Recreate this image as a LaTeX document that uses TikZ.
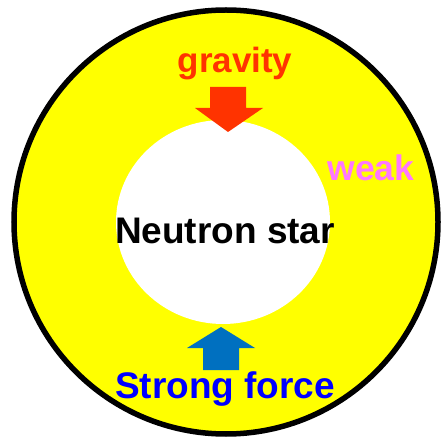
\documentclass[tikz,border=0pt]{standalone}
\usepackage{fontspec}
\setmainfont{Liberation Sans}
\usetikzlibrary{shapes.geometric}
\definecolor{ringyellow}{HTML}{FFFF00}
\definecolor{gravred}{HTML}{FF3300}
\definecolor{strongblue}{HTML}{0070C0}
\definecolor{textblue}{HTML}{0000FF}
\definecolor{weakpink}{HTML}{FF77FF}
\begin{document}
\begin{tikzpicture}[x=1pt,y=-1pt,
  lbl/.style={inner sep=0pt,font=\fontsize{37}{40}\selectfont\bfseries},
  bigarrow/.style={draw=none}]
\useasboundingbox (0,0) rectangle (444,438);
% outer ring
\node[circle,minimum size=424pt,fill=ringyellow,draw=black,line width=5.5pt,inner sep=0pt] (outer) at (226,222) {};
% inner white ellipse
\node[ellipse,minimum width=214pt,minimum height=204pt,fill=white,inner sep=0pt] (core) at (223,222) {};
% labels
\node[lbl,text=black] (ns) at (225,231) {Neutron star};
\node[inner sep=0pt,font=\fontsize{35}{40}\selectfont,text=gravred] (grav) at (235,64) {\textbf{gravity}};
\node[lbl,text=weakpink,font=\fontsize{35.5}{40}\selectfont\bfseries] (weak) at (371,168) {weak};
\node[lbl,text=textblue] (strong) at (225,389) {Strong force};
% gravity arrow (down)
\coordinate (gtip) at (228,132);
\fill[gravred] (210,87) -- (246,87) -- (246,108) -- (263,108) -- (gtip) -- (195,108) -- (210,108) -- cycle;
% strong arrow (up)
\coordinate (stip) at (221,327);
\fill[strongblue] (203,370) -- (239,370) -- (239,348) -- (255,348) -- (stip) -- (187,348) -- (203,348) -- cycle;
\end{tikzpicture}
\end{document}
